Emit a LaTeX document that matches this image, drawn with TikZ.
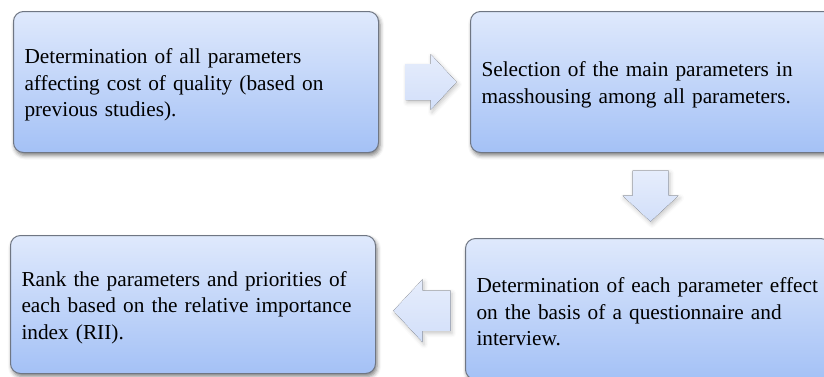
\documentclass[tikz,border=0pt]{standalone}
\usepackage{fontspec}
\setmainfont{Liberation Serif}
\usetikzlibrary{calc,shadows.blur}

\definecolor{boxtop}{HTML}{DFE9FC}
\definecolor{boxbottom}{HTML}{A4C1F6}
\definecolor{boxline}{HTML}{6F7683}
\definecolor{arrowtop}{HTML}{E6EDFC}
\definecolor{arrowbottom}{HTML}{D2DFF9}

\tikzset{
  stepbox/.style={draw=boxline, line width=1pt, rounded corners=10pt,
    top color=boxtop, bottom color=boxbottom,
    minimum width=365pt, minimum height=141pt, text width=343pt,
    inner xsep=11pt, align=left, text height=21pt, anchor=north west,
    font=\fontsize{21.3}{26.5}\selectfont,
    blur shadow={shadow xshift=1.5pt, shadow yshift=-3pt, shadow opacity=50,
      shadow blur radius=4pt}},
  blockarrow/.pic={
    \fill[top color=arrowtop, bottom color=arrowbottom,
      blur shadow={shadow xshift=1.5pt, shadow yshift=-2.5pt, shadow opacity=22,
        shadow blur radius=4pt}]
      (-25,-18) -- (0,-18) -- (0,-28) -- (26,0) -- (0,28) -- (0,18) -- (-25,18) -- cycle;
  }
}

\begin{document}
\begin{tikzpicture}[x=1pt,y=-1pt]
\useasboundingbox (0,0) rectangle (824,376);

\node[stepbox] (1) at (13,11) {Determination of all parameters\\
  affecting cost of quality (based on\\ previous studies).};
\node[stepbox] (2) at (470,11) {Selection of the main parameters in\\
  masshousing among all parameters.};
\node[stepbox, minimum height=138pt] (3) at (10,235) {Rank the parameters and priorities of\\
  each based on the relative importance\\ index (RII).};
\node[stepbox] (4) at (465,238) {Determination of each parameter effect\\
  on the basis of a questionnaire and\\ interview.};

% arrows between the steps
\pic at ($(1.east)!0.5!(2.west)+(6,0)$) {blockarrow};
\pic[rotate=-90] at ($(2.south)!0.5!(4.north)$) {blockarrow};
\pic[rotate=180, scale=1.12] at ($(4.west)!0.5!(3.east)+(2,4)$) {blockarrow};

\end{tikzpicture}
\end{document}
